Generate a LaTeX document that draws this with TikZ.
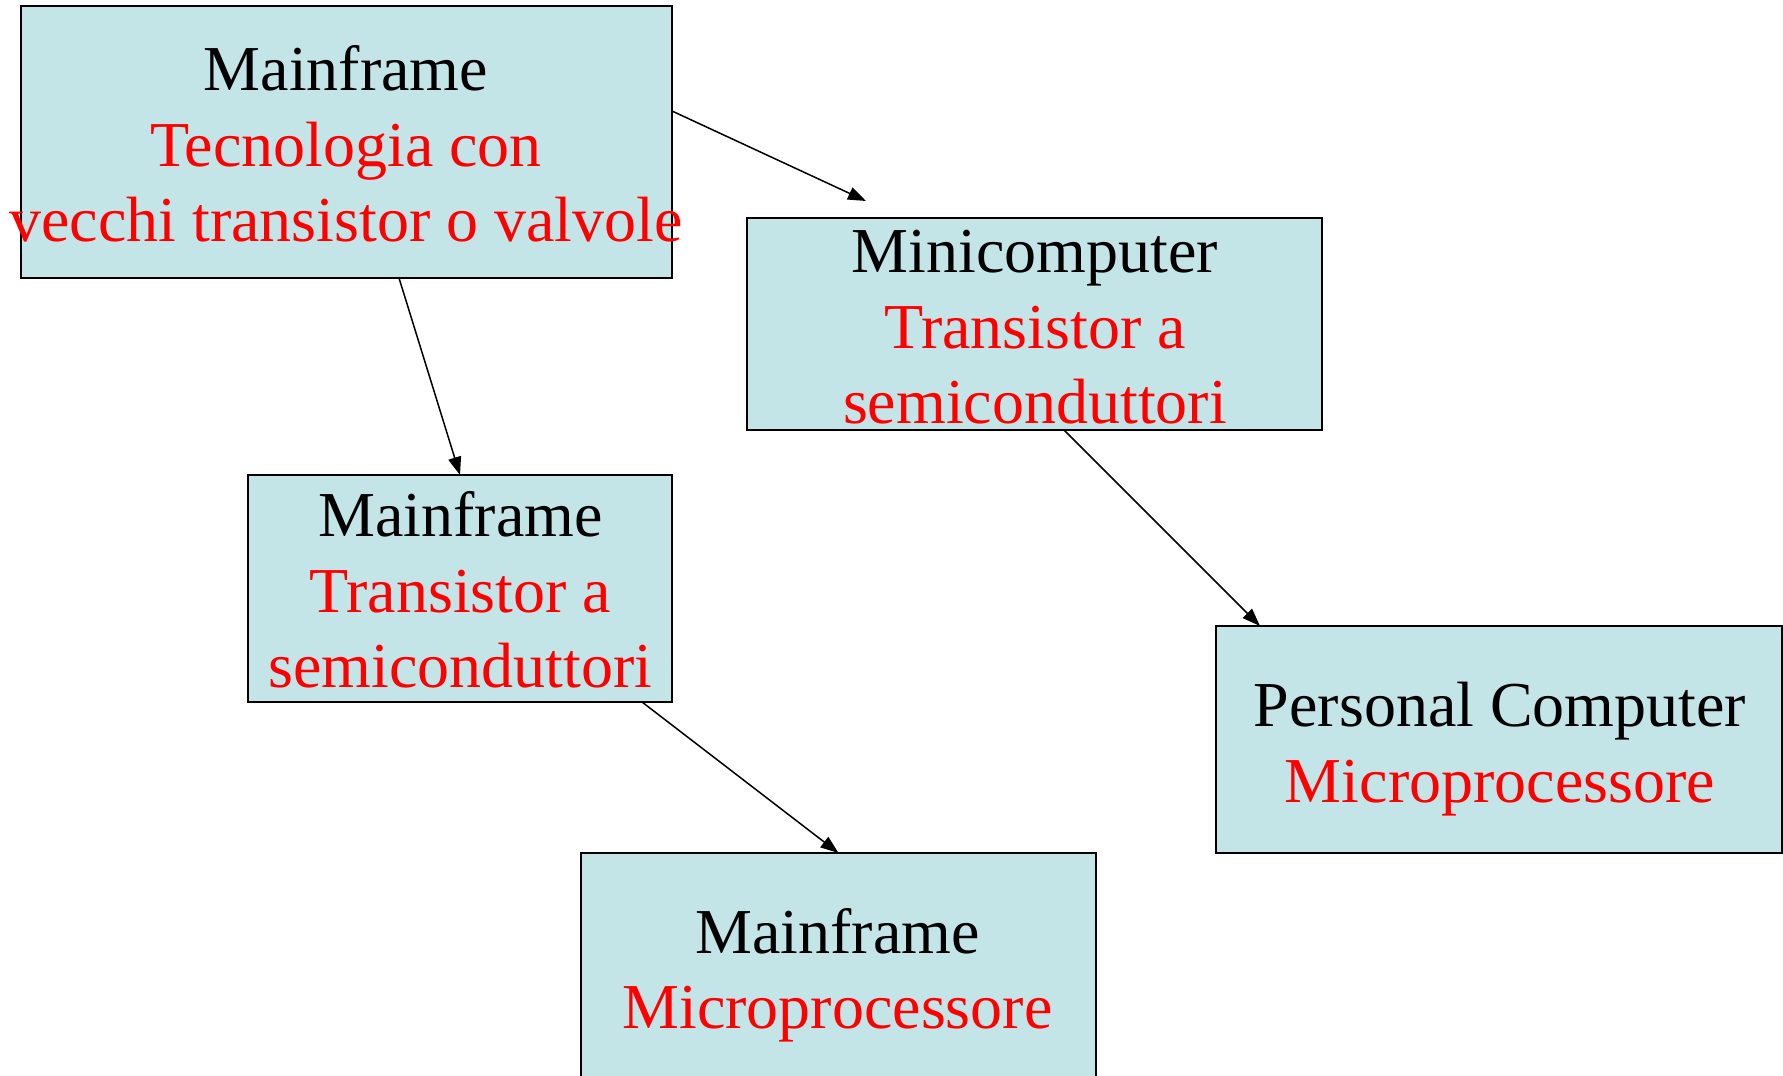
\documentclass[tikz,border=0pt]{standalone}
\usepackage{fontspec}
\setmainfont{Liberation Serif}
\usetikzlibrary{arrows.meta,calc}
\definecolor{boxfill}{RGB}{196,229,232}
\definecolor{txtred}{RGB}{255,0,0}
\tikzset{
  box/.style={draw=black, line width=2pt, fill=boxfill, rectangle, inner sep=0pt, outer sep=0pt},
  lbl/.style={anchor=base, align=center, inner sep=0pt, font=\fontsize{64}{75.5}\selectfont},
  arr/.style={line width=1.5pt, -{Triangle[length=18pt,width=13pt]}}
}
\begin{document}
\begin{tikzpicture}[x=1pt,y=-1pt]
\clip (0,0) rectangle (1783,1076);
\fill[white] (0,0) rectangle (1783,1076);
% boxes
\node[box, minimum width=651pt, minimum height=272pt] (b1) at (346.5,142) {};
\node[box, minimum width=575pt, minimum height=212pt] (b2) at (1034.5,324) {};
\node[box, minimum width=424pt, minimum height=227pt] (b3) at (460,588.5) {};
\node[box, minimum width=566pt, minimum height=227pt] (b4) at (1499,739.5) {};
\node[box, minimum width=515pt, minimum height=247pt] (b5) at (838.5,976.5) {};
% texts (anchor base = baseline of last line)
\node[lbl] (t1) at (346,241.7) {Mainframe\\\textcolor{txtred}{Tecnologia con}\\\textcolor{txtred}{vecchi transistor o valvole}};
\node[lbl] (t2) at (1035,423.7) {Minicomputer\\\textcolor{txtred}{Transistor a}\\\textcolor{txtred}{semiconduttori}};
\node[lbl] (t3) at (460.5,687.7) {Mainframe\\\textcolor{txtred}{Transistor a}\\\textcolor{txtred}{semiconduttori}};
\node[lbl] (t4) at (1500,802.2) {Personal Computer\\\textcolor{txtred}{Microprocessore}};
\node[lbl] (t5) at (837.5,1028.8) {Mainframe\\\textcolor{txtred}{Microprocessore}};
% connectors
\coordinate (a1end) at (866,201);
\draw[arr] ($(b1.east)+(0,-31)$) -- (a1end);
\draw[arr] ($(b1.south)+(52.5,0)$) -- (b3.north);
\draw[arr] ($(b2.south)+(29.5,0)$) -- ($(b4.north west)+(44,0)$);
\draw[arr] ($(b3.south)+(182,0)$) -- (b5.north);
\end{tikzpicture}
\end{document}
